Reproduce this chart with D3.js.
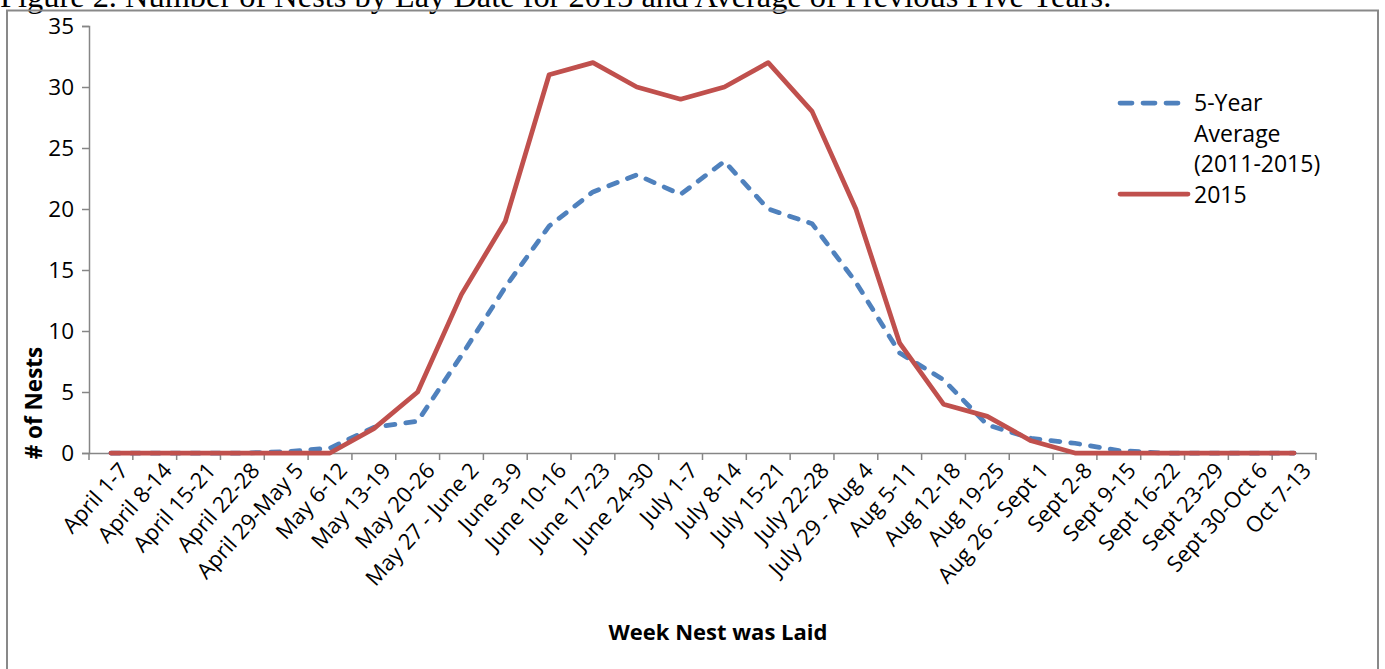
<!DOCTYPE html>
<html>
<head>
<meta charset="utf-8">
<script src="https://cdn.jsdelivr.net/npm/d3@7"></script>
<style>
  body { margin: 0; background: #fff; }
  text { font-family: "Open Sans", sans-serif; fill: #000; }
</style>
</head>
<body>
<div id="chart"></div>
<script>
// week categories
var weeks = ["April 1-7", "April 8-14", "April 15-21", "April 22-28", "April 29-May 5",
  "May 6-12", "May 13-19", "May 20-26", "May 27 - June 2", "June 3-9", "June 10-16",
  "June 17-23", "June 24-30", "July 1-7", "July 8-14", "July 15-21", "July 22-28",
  "July 29 - Aug 4", "Aug 5-11", "Aug 12-18", "Aug 19-25", "Aug 26 - Sept 1",
  "Sept 2-8", "Sept 9-15", "Sept 16-22", "Sept 23-29", "Sept 30-Oct 6", "Oct 7-13"];

var avg5 = [0, 0, 0, 0, 0.1, 0.4, 2.1, 2.6, 8, 13.6, 18.6, 21.4, 22.8, 21.2, 23.9,
  20, 18.8, 14, 8.2, 6, 2.3, 1.2, 0.8, 0.2, 0, 0, 0, 0];
var y2015 = [0, 0, 0, 0, 0, 0, 2, 5, 13, 19, 31, 32, 30, 29, 30, 32, 28, 20, 9, 4,
  3, 1, 0, 0, 0, 0, 0, 0];

var yTicks = [0, 5, 10, 15, 20, 25, 30, 35];

var legendLines = ["5-Year", "Average", "(2011-2015)", "2015"];

var width = 1385, height = 669;
var plotLeft = 89, plotRight = 1316, plotTop = 26, plotBottom = 453;

var svg = d3.select("#chart").append("svg")
  .attr("width", width)
  .attr("height", height);

// figure caption, cut off by the top of the page
svg.append("text")
  .attr("x", 0)
  .attr("y", 7)
  .style("font-family", "'Liberation Serif', serif")
  .style("font-size", "32.4px")
  .text("Figure 2.  Number of Nests by Lay Date for 2015 and Average of Previous Five Years.");

// chart frame
svg.append("rect")
  .attr("x", 7)
  .attr("y", 10.5)
  .attr("width", 1371)
  .attr("height", 680)
  .attr("fill", "none")
  .attr("stroke", "#898989")
  .attr("stroke-width", 2);

var x = d3.scaleBand()
  .domain(weeks)
  .range([plotLeft, plotRight]);

var y = d3.scaleLinear()
  .domain([0, 35])
  .range([plotBottom, plotTop]);

// y axis
var yAxis = svg.append("g")
  .attr("transform", "translate(" + plotLeft + ",0)")
  .call(d3.axisLeft(y).tickValues(yTicks).tickSize(7).tickPadding(8));
yAxis.selectAll("text")
  .style("font-size", "22.5px")
  .style("font-family", "'Open Sans', sans-serif");

// x axis, ticks at the category boundaries
var xAxis = svg.append("g")
  .attr("transform", "translate(0," + plotBottom + ")")
  .call(d3.axisBottom(x).tickSize(0).tickFormat(""));
xAxis.selectAll(".tick").remove();
xAxis.selectAll(".bound")
  .data(d3.range(weeks.length + 1))
  .enter().append("line")
    .attr("class", "bound")
    .attr("x1", function(i){ return plotLeft + i * x.step(); })
    .attr("x2", function(i){ return plotLeft + i * x.step(); })
    .attr("y1", 0)
    .attr("y2", 7);

svg.selectAll(".domain").attr("stroke", "#868686").attr("stroke-width", 1.5);
svg.selectAll(".tick line, .bound").attr("stroke", "#868686").attr("stroke-width", 1.5);

// rotated week labels
svg.append("g").selectAll("text")
  .data(weeks)
  .enter().append("text")
    .attr("text-anchor", "end")
    .attr("transform", function(d){
      return "translate(" + (x(d) + x.bandwidth() / 2 + 7) + "," + (plotBottom + 8) + ") rotate(-48)";
    })
    .attr("dy", "0.7em")
    .style("font-size", "22px")
    .text(function(d){ return d; });

// axis titles
svg.append("text")
  .attr("x", 718)
  .attr("y", 640)
  .attr("text-anchor", "middle")
  .style("font-size", "22px")
  .style("font-weight", "bold")
  .text("Week Nest was Laid");

svg.append("text")
  .attr("transform", "translate(42,403) rotate(-90)")
  .attr("text-anchor", "middle")
  .style("font-size", "22.5px")
  .style("font-weight", "bold")
  .text("# of Nests");

var line = d3.line()
  .x(function(d, i){ return x(weeks[i]) + x.bandwidth() / 2; })
  .y(function(d){ return y(d); });

svg.append("path")
  .datum(avg5)
  .attr("d", line)
  .attr("fill", "none")
  .attr("stroke", "#4F81BD")
  .attr("stroke-width", 4.75)
  .attr("stroke-dasharray", "9,11")
  .attr("stroke-linecap", "round")
  .attr("stroke-linejoin", "round");

svg.append("path")
  .datum(y2015)
  .attr("d", line)
  .attr("fill", "none")
  .attr("stroke", "#C0504D")
  .attr("stroke-width", 4.75)
  .attr("stroke-linecap", "round")
  .attr("stroke-linejoin", "round");

// legend
var legend = svg.append("g");
legend.append("line")
  .attr("x1", 1120).attr("x2", 1180)
  .attr("y1", 103).attr("y2", 103)
  .attr("stroke", "#4F81BD")
  .attr("stroke-width", 4.75)
  .attr("stroke-dasharray", "12,11")
  .attr("stroke-linecap", "round");
legend.append("line")
  .attr("x1", 1120).attr("x2", 1188)
  .attr("y1", 194).attr("y2", 194)
  .attr("stroke", "#C0504D")
  .attr("stroke-width", 4.75)
  .attr("stroke-linecap", "round");

legend.selectAll(".lab")
  .data(legendLines)
  .enter().append("text")
    .attr("class", "lab")
    .attr("x", 1194)
    .attr("y", function(d, i){ return 111 + i * 30.7; })
    .style("font-size", "23px")
    .text(function(d){ return d; });
</script>
</body>
</html>
